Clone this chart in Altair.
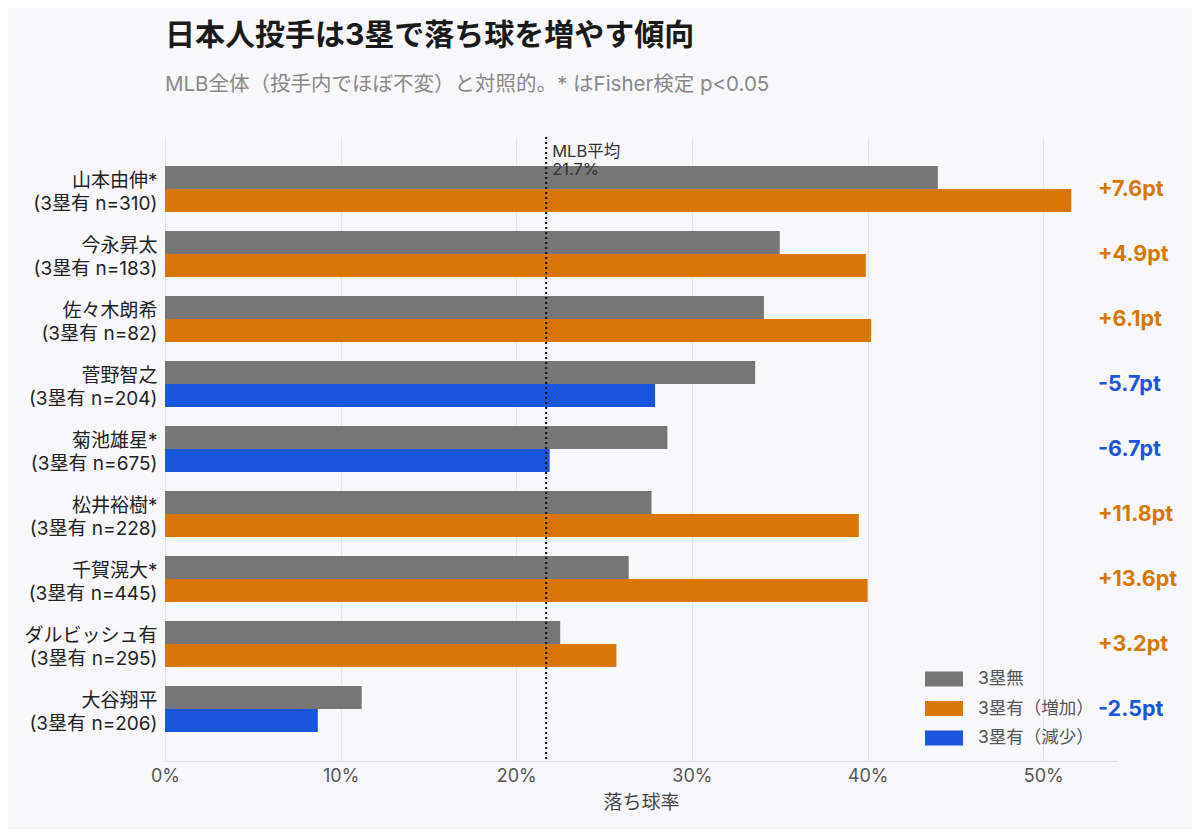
import altair as alt
import pandas as pd

pitchers = ["山本由伸*", "今永昇太", "佐々木朗希", "菅野智之", "菊池雄星*",
            "松井裕樹*", "千賀滉大*", "ダルビッシュ有", "大谷翔平"]
n_with = [310, 183, 82, 204, 675, 228, 445, 295, 206]
rate_without = [44.0, 35.0, 34.1, 33.6, 28.6, 27.7, 26.4, 22.5, 11.2]
rate_with = [51.6, 39.9, 40.2, 27.9, 21.9, 39.5, 40.0, 25.7, 8.7]
diff_pt = [7.6, 4.9, 6.1, -5.7, -6.7, 11.8, 13.6, 3.2, -2.5]
mlb_avg = 21.7

FONT = "Inter, 'Noto Sans CJK JP'"
GRAY = "#767676"
ORANGE = "#D97706"
BLUE = "#1A56DB"

cats = ["3塁無", "3塁有（増加）", "3塁有（減少）"]

rows = []
for p, n, a, b, d in zip(pitchers, n_with, rate_without, rate_with, diff_pt):
    lab = f"{p}|(3塁有 n={n})"
    rows.append({"label": lab, "sub": "a", "cat": "3塁無", "rate": a})
    rows.append({"label": lab, "sub": "b",
                 "cat": "3塁有（増加）" if d > 0 else "3塁有（減少）", "rate": b})
bars_df = pd.DataFrame(rows)
order = [f"{p}|(3塁有 n={n})" for p, n in zip(pitchers, n_with)]

diff_df = pd.DataFrame({
    "label": order,
    "txt": [f"{d:+.1f}pt" for d in diff_pt],
    "sign": ["up" if d > 0 else "down" for d in diff_pt],
})

W, H = 952, 624

yenc = alt.Y("label:N", sort=order, title=None,
             scale=alt.Scale(paddingInner=0.292, paddingOuter=0.446),
             axis=alt.Axis(labelExpr="split(datum.label, '|')", labelFont=FONT,
                           labelFontSize=19, labelColor="#222", labelLineHeight=23,
                           labelPadding=8, ticks=False, domain=False, grid=False,
                           labelAlign="right", labelBaseline="middle", labelOffset=-8))

xscale = alt.Scale(domain=[0, 54.2], nice=False, zero=True)

bars = alt.Chart(bars_df).mark_bar().encode(
    x=alt.X("rate:Q", scale=xscale, title="落ち球率",
            axis=alt.Axis(values=[0, 10, 20, 30, 40, 50],
                          labelExpr="datum.value + '%'", labelFont=FONT,
                          labelFontSize=18, labelColor="#555", titleFont=FONT,
                          titleFontSize=19, titleColor="#444", titleFontWeight="normal",
                          titlePadding=8, grid=True, gridColor="#e3e3ea", ticks=False,
                          domainColor="#dcdce4", labelPadding=6, labelFlush=False)),
    y=yenc,
    yOffset=alt.YOffset("sub:N", scale=alt.Scale(paddingInner=0, paddingOuter=0)),
    color=alt.Color("cat:N", scale=alt.Scale(domain=cats, range=[GRAY, ORANGE, BLUE]),
                    legend=alt.Legend(title=None, orient="none", legendX=760, legendY=523,
                                      labelFont=FONT, labelFontSize=17.5, labelColor="#555",
                                      symbolType="M-1,-0.4L1,-0.4L1,0.4L-1,0.4Z",
                                      symbolSize=1444, symbolStrokeWidth=0,
                                      rowPadding=1.5, labelOffset=15, padding=0)),
)

rule_df = pd.DataFrame({"x": [mlb_avg], "t": [f"MLB平均\n{mlb_avg}%"]})
rule = alt.Chart(rule_df).mark_rule(color="#111", strokeDash=[2, 3], strokeWidth=2).encode(
    x=alt.X("x:Q", scale=xscale))
rule_text = alt.Chart(rule_df).mark_text(
    align="left", baseline="top", dx=6, font=FONT, fontSize=16.5, color="#333",
    lineBreak="\n", lineHeight=18).encode(
    x=alt.X("x:Q", scale=xscale), y=alt.value(7), text="t:N")

diff_text = alt.Chart(diff_df).mark_text(
    align="left", baseline="middle", font=FONT, fontSize=21.5, fontWeight="bold", dy=1).encode(
    x=alt.value(933), y=alt.Y("label:N", sort=order),
    text="txt:N",
    color=alt.Color("sign:N", scale=alt.Scale(domain=["up", "down"], range=[ORANGE, BLUE]),
                    legend=None),
)

chart = alt.layer(bars, rule, rule_text, diff_text).resolve_scale(color="independent").properties(
    width=W, height=H,
    background="#f8f8fb",
    padding={"left": 157, "top": 129, "right": 75, "bottom": 68},
    autosize=alt.AutoSizeParams(type="none"),
    title=alt.TitleParams(
        "日本人投手は3塁で落ち球を増やす傾向",
        subtitle="MLB全体（投手内でほぼ不変）と対照的。* はFisher検定 p<0.05",
        anchor="start", frame="group", font=FONT, fontSize=30, fontWeight="bold",
        color="#1a1a1a", subtitleFont=FONT, subtitleFontSize=20.5, subtitleColor="#888",
        subtitlePadding=24, offset=41),
).configure_view(stroke=None)

chart.save("out.html", embed_options={"renderer": "svg", "actions": False})
